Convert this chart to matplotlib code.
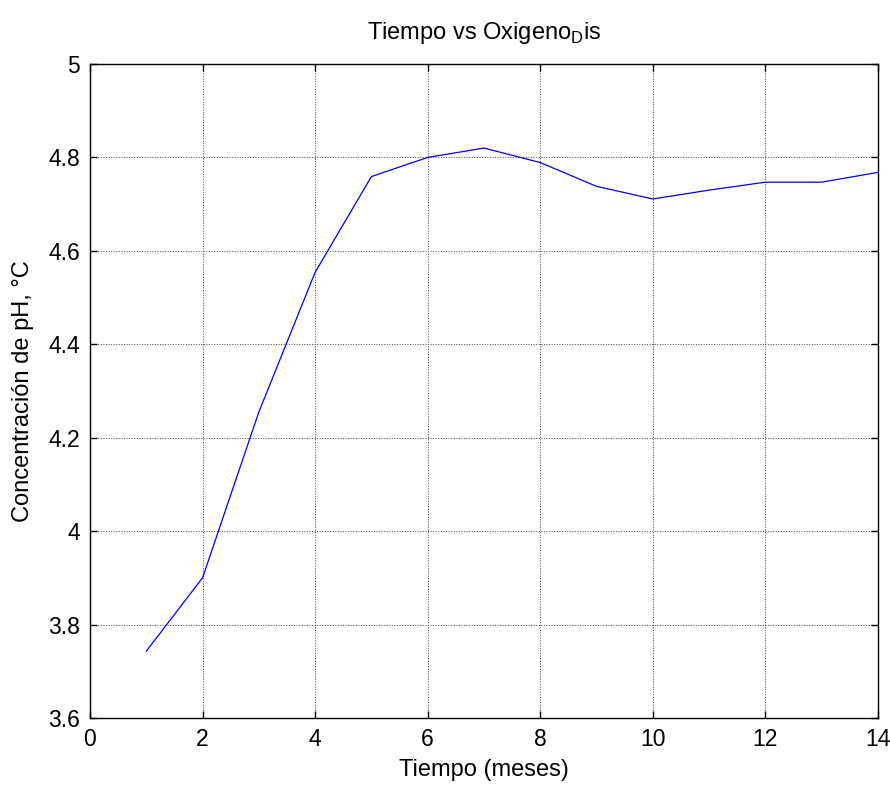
import matplotlib
matplotlib.use("Agg")
import matplotlib.pyplot as plt
from matplotlib.ticker import FormatStrFormatter

# datos
meses = [1, 2, 3, 4, 5, 6, 7, 8, 9, 10, 11, 12, 13, 14]
oxigeno_dis = [3.743, 3.90, 4.255, 4.554, 4.759, 4.80, 4.820, 4.789,
               4.738, 4.711, 4.73, 4.747, 4.747, 4.768]

x_ticks = [0, 2, 4, 6, 8, 10, 12, 14]
y_ticks = [3.6, 3.8, 4.0, 4.2, 4.4, 4.6, 4.8, 5.0]

plt.rcParams['font.family'] = ['Liberation Sans', 'DejaVu Sans']

fig = plt.figure(figsize=(8.9, 7.87), dpi=100)
ax = fig.add_axes([0.1011, 0.0877, 0.8854, 0.831])

ax.plot(meses, oxigeno_dis, color=(0, 0, 1), linewidth=0.9)

ax.set_xlim(0, 14)
ax.set_ylim(3.6, 5.0)
ax.set_xticks(x_ticks)
ax.set_yticks(y_ticks)
ax.yaxis.set_major_formatter(FormatStrFormatter('%g'))
ax.tick_params(direction='in', top=True, right=True, length=5, width=1,
               labelsize=16.5, pad=7)
for s in ax.spines.values():
    s.set_linewidth(1.0)
    s.set_color('black')
ax.grid(True, linestyle=':', color='#404040', linewidth=0.7)

ax.set_title(r'Tiempo vs Oxigeno$_\mathregular{D}$is', fontsize=17, pad=18)
ax.set_xlabel('Tiempo (meses)', fontsize=17, labelpad=6)
ax.set_ylabel('Concentración de pH, °C', fontsize=17, labelpad=10)

fig.savefig('out.png', dpi=100)
